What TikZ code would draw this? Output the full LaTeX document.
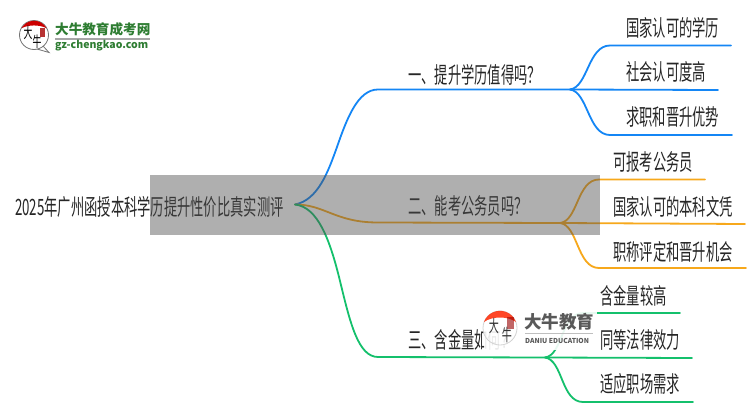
\documentclass[tikz,border=0pt]{standalone}
\usepackage{fontspec}
\setmainfont{Noto Sans CJK SC}
\newfontfamily\cjk[FakeStretch=0.59]{Noto Sans CJK SC}
\usetikzlibrary{calc}
\definecolor{bl}{HTML}{1486F5}
\definecolor{or}{HTML}{F7A81B}
\definecolor{gr}{HTML}{14C06C}
\definecolor{lg}{HTML}{2E7D32}
\definecolor{band}{RGB}{79,79,79}
\tikzset{
  lab/.style={anchor=west,inner sep=0pt,text=black!85,font=\cjk\fontsize{22.5}{23}\selectfont},
  conn/.style={line width=1.8pt,line cap=round},
  logotxt/.style={inner sep=0pt,anchor=west}
}
\begin{document}
\begin{tikzpicture}[x=1pt,y=-1pt]
\useasboundingbox (0,0) rectangle (750,410);
\fill[white] (0,0) rectangle (750,410);
% labels
\node[lab] (root) at (15,207) {2025年广州函授本科学历提升性价比真实测评};
\node[lab] (a) at (408,75) {一、提升学历值得吗？};
\node[lab] (a1) at (626,28) {国家认可的学历};
\node[lab] (a2) at (626,72) {社会认可度高};
\node[lab] (a3) at (626,117) {求职和晋升优势};
\node[lab] (b) at (408,206) {二、能考公务员吗？};
\node[lab] (b1) at (613,162) {可报考公务员};
\node[lab] (b2) at (613,207) {国家认可的本科文凭};
\node[lab] (b3) at (613,252) {职称评定和晋升机会};
\node[lab] (c) at (408,340) {三、含金量如何？};
\node[lab] (c1) at (600,296) {含金量较高};
\node[lab] (c2) at (600,340) {同等法律效力};
\node[lab] (c3) at (600,384) {适应职场需求};
% connector points
\coordinate (o) at (295,204.5);
\coordinate (am) at (337,147); \coordinate (ah) at (378,89.5); \coordinate (aj) at (570,89.5);
\coordinate (bh) at (378,222.5); \coordinate (bj) at (560,223);
\coordinate (cm) at (340,281); \coordinate (ch) at (378,357); \coordinate (cj) at (545,357.5);
\coordinate (a1s) at (610,45.5); \coordinate (a1e) at (731,45.5);
\coordinate (a2e) at (718,90);
\coordinate (a3s) at (610,135); \coordinate (a3e) at (732,135);
\coordinate (b1s) at (599,179.5); \coordinate (b1e) at (705,179.5);
\coordinate (b2e) at (745,224);
\coordinate (b3s) at (599,268); \coordinate (b3e) at (746,268);
\coordinate (c1s) at (583,313); \coordinate (c1e) at (680,313);
\coordinate (c2e) at (692,358);
\coordinate (c3s) at (583,402); \coordinate (c3e) at (693,402);
% blue
\begin{scope}[conn,bl]
\draw (o) .. controls (318,200) and (328,172) .. (am) .. controls (347,118) and (358,89.5) .. (ah) -- (aj);
\draw (aj) .. controls (588,87) and (588,45.5) .. (a1s) -- (a1e);
\draw (aj) -- (a2e);
\draw (aj) .. controls (588,92) and (588,135) .. (a3s) -- (a3e);
\end{scope}
% orange
\begin{scope}[conn,or]
\draw (o) .. controls (325,204.5) and (335,222.5) .. (bh) -- (bj);
\draw (bj) .. controls (578,221) and (577,179.5) .. (b1s) -- (b1e);
\draw (bj) -- (b2e);
\draw (bj) .. controls (578,225) and (577,268) .. (b3s) -- (b3e);
\end{scope}
% green
\begin{scope}[conn,gr]
\draw (o) .. controls (318,207) and (330,240) .. (cm) .. controls (350,322) and (358,357) .. (ch) -- (cj);
\draw (cj) .. controls (563,355) and (561,313) .. (c1s) -- (c1e);
\draw (cj) -- (c2e);
\draw (cj) .. controls (563,360) and (561,402) .. (c3s) -- (c3e);
\end{scope}
% grey band
\fill[band,opacity=0.45] (150,175) rectangle (600,235);
% top-left logo
\begin{scope}
\draw[black!55,fill=white,line width=0.8pt] (43,46) -- (49,52.5) -- (37,49) -- cycle;
\draw[black!55,fill=white,line width=0.8pt] (34,35) circle[radius=14.5];
\fill[red!80!black] (21.5,28.3) arc[start angle=208,end angle=332,radius=14.2] .. controls (40,24.5) and (28,24.5) .. cycle;
\fill[red!65!black,opacity=.8] (40,27.5) rectangle (45,37);
\node[inner sep=0pt,text=black,font=\cjk\fontsize{15}{15}\selectfont] (lg1) at (28,33) {大};
\node[inner sep=0pt,text=black,font=\cjk\fontsize{15}{15}\selectfont] (lg2) at (37,42) {牛};
\node[logotxt,text=lg,font=\bfseries\fontsize{13.6}{14}\selectfont] (lg3) at (55,29.5) {大牛教育成考网};
\fill[gray!70] (55,38) rectangle (150,39.5);
\node[logotxt,text=lg,font=\bfseries\fontsize{10.5}{11}\selectfont] (lg4) at (55,45.5) {gz-chengkao.com};
\end{scope}
% bottom watermark
\fill[white,opacity=0.9] (484,303) rectangle (597,350);
\draw[gray!35,line width=0.8pt] (500,328) circle[radius=17];
\fill[red!70!orange,opacity=.85] (484,322) arc[start angle=200,end angle=340,radius=17] .. controls (508,316) and (492,316) .. cycle;
\fill[red!60!black,opacity=.6] (507,317) rectangle (514,329);
\node[inner sep=0pt,text=black!80,font=\cjk\fontsize{17}{17}\selectfont] (w1) at (494,326) {大};
\node[inner sep=0pt,text=black!80,font=\cjk\fontsize{17}{17}\selectfont] (w2) at (507,335) {牛};
\node[logotxt,text=black!65,font=\bfseries\fontsize{17.5}{18}\selectfont] (w3) at (524,322) {大牛教育};
\fill[gray!50] (525,332.5) rectangle (593,333.3);
\node[logotxt,text=black!65,font=\bfseries\fontsize{6.8}{7}\selectfont] (w4) at (525,341) {DANIU EDUCATION};
\end{tikzpicture}
\end{document}
